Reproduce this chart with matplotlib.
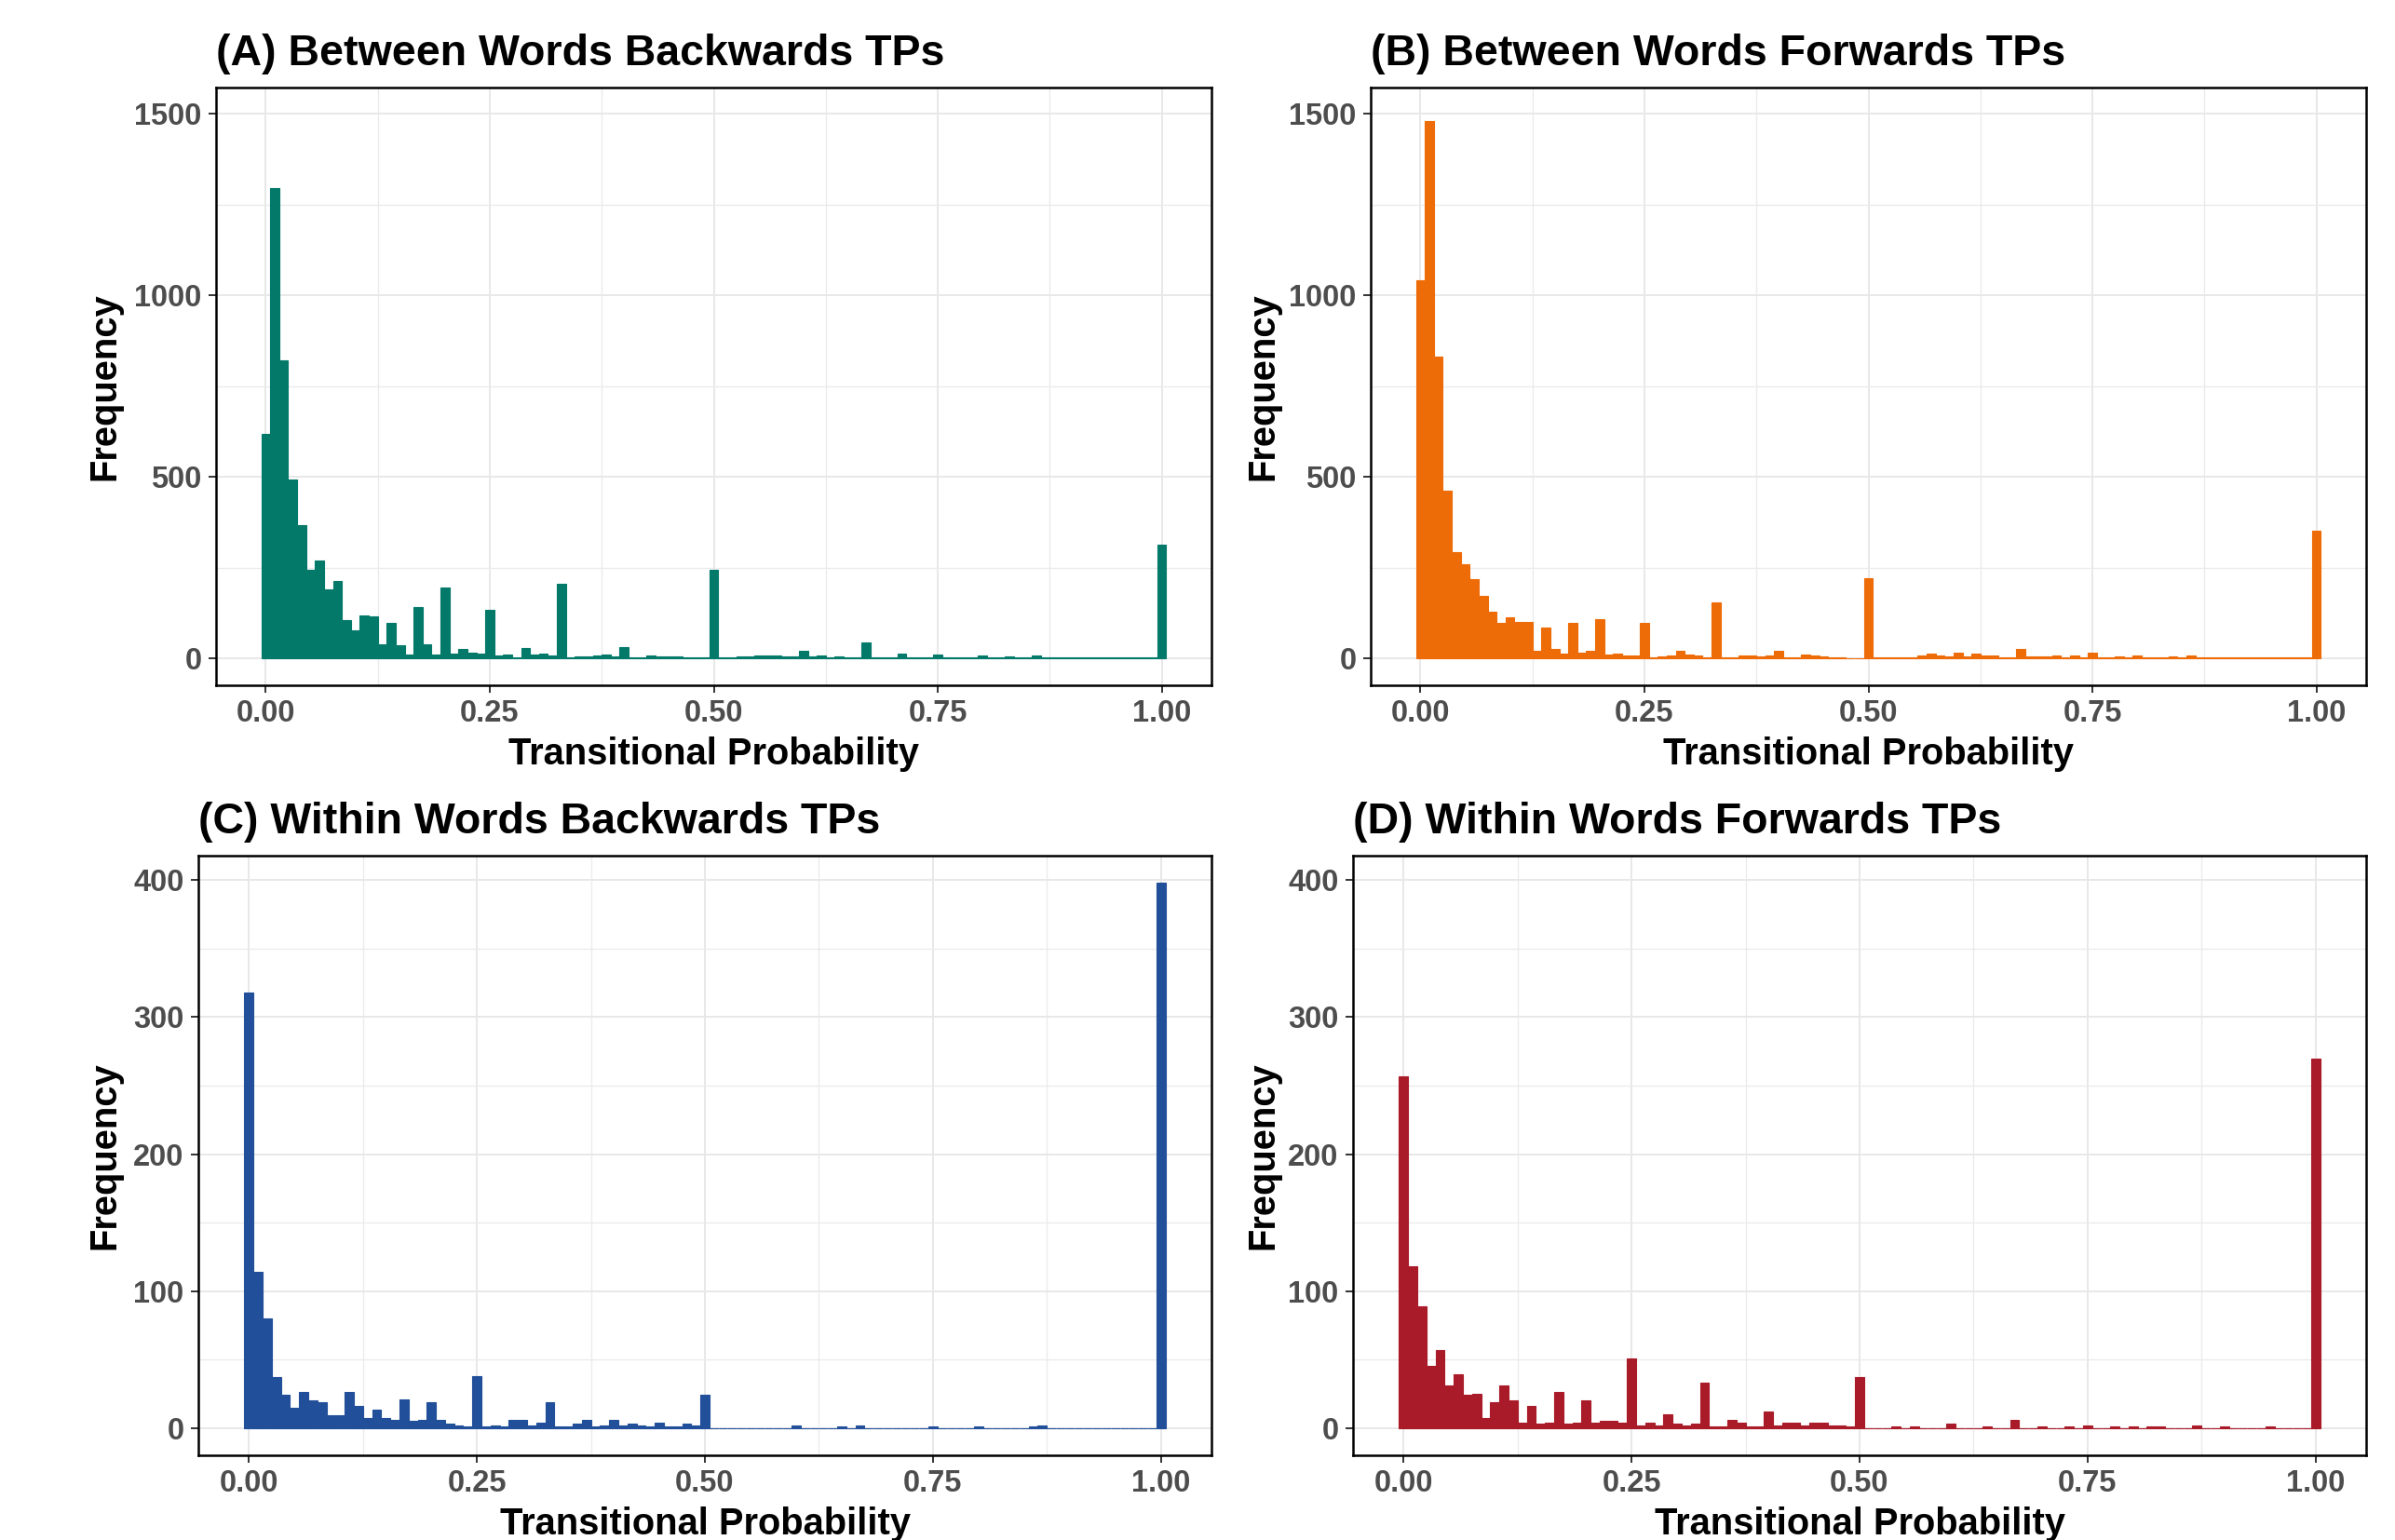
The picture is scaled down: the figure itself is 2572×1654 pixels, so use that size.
import numpy as np
import matplotlib.pyplot as plt
from matplotlib.ticker import FixedLocator, MultipleLocator

plt.rcParams['font.family'] = ['Liberation Sans', 'DejaVu Sans']
plt.rcParams['font.weight'] = 'bold'

# ---------- Data (counts per 0.01-wide bin, centred on 0.00 ... 1.00) ----------
bin_centers = np.round(np.arange(101) * 0.01, 2)

between_backward = [
    619, 1295, 821, 493, 368, 244, 269, 191, 212, 106,
    78, 118, 116, 39, 97, 37, 11, 141, 39, 11,
    194, 12, 27, 17, 12, 133, 7, 11, 4, 28,
    10, 13, 7, 206, 4, 5, 6, 8, 10, 5,
    31, 4, 4, 7, 5, 5, 5, 4, 3, 3,
    245, 4, 4, 5, 6, 7, 7, 9, 5, 5,
    21, 5, 8, 4, 6, 4, 4, 43, 4, 4,
    4, 12, 4, 4, 4, 10, 4, 3, 4, 4,
    8, 3, 3, 5, 4, 3, 7, 3, 2, 2,
    2, 2, 2, 2, 2, 2, 2, 2, 2, 2,
    314]

between_forward = [
    1040, 1480, 832, 462, 293, 259, 218, 171, 129, 98,
    114, 100, 100, 21, 86, 27, 12, 97, 15, 20,
    107, 10, 14, 9, 9, 97, 3, 5, 7, 21,
    11, 9, 3, 153, 3, 3, 7, 8, 6, 8,
    22, 4, 2, 11, 9, 5, 2, 2, 1, 1,
    222, 3, 3, 2, 3, 4, 7, 12, 7, 5,
    15, 6, 12, 7, 7, 4, 4, 26, 5, 5,
    5, 9, 3, 8, 4, 16, 3, 3, 6, 4,
    8, 3, 3, 3, 6, 3, 7, 4, 4, 4,
    3, 4, 4, 3, 2, 2, 2, 2, 2, 2,
    351]

within_backward = [
    318, 114, 80, 37, 24, 15, 26, 20, 19, 9,
    9, 26, 16, 7, 13, 7, 6, 21, 5, 6,
    19, 6, 3, 2, 1, 38, 1, 2, 1, 6,
    6, 2, 4, 19, 1, 1, 3, 6, 1, 2,
    6, 2, 3, 2, 1, 4, 1, 1, 3, 2,
    24, 0, 0, 0, 0, 0, 0, 0, 0, 0,
    2, 0, 0, 0, 0, 1, 0, 2, 0, 0,
    0, 0, 0, 0, 0, 1, 0, 0, 0, 0,
    1, 0, 0, 0, 0, 0, 1, 2, 0, 0,
    0, 0, 0, 0, 0, 0, 0, 0, 0, 0,
    398]

within_forward = [
    257, 118, 89, 45, 57, 31, 39, 24, 25, 7,
    19, 31, 20, 4, 16, 3, 4, 26, 3, 4,
    20, 4, 5, 5, 4, 51, 2, 4, 2, 10,
    3, 2, 3, 33, 1, 1, 6, 4, 1, 1,
    12, 2, 4, 4, 2, 4, 4, 2, 2, 1,
    37, 0, 0, 0, 1, 0, 1, 0, 0, 0,
    3, 0, 0, 0, 1, 0, 0, 6, 0, 0,
    1, 0, 0, 1, 0, 2, 0, 0, 1, 0,
    1, 0, 1, 1, 0, 0, 0, 2, 0, 0,
    1, 0, 0, 0, 0, 1, 0, 0, 0, 0,
    270]

titles = ['(A) Between Words Backwards TPs', '(B) Between Words Forwards TPs',
          '(C) Within Words Backwards TPs', '(D) Within Words Forwards TPs']
x_ticks = [0.0, 0.25, 0.5, 0.75, 1.0]
x_ticklabels = ['0.00', '0.25', '0.50', '0.75', '1.00']
y_ticks_top = [0, 500, 1000, 1500]
y_ticks_bottom = [0, 100, 200, 300, 400]

# ---------- Figure layout (pixel boxes: left, right, top, bottom) ----------
W, H = 2572, 1654
fig = plt.figure(figsize=(W / 100, H / 100), dpi=100)

panels = [
    (between_backward, '#03796A', (232, 1301, 94, 736), y_ticks_top, (-74, 1572), 250),
    (between_forward, '#ED6C08', (1472, 2541, 94, 736), y_ticks_top, (-74, 1572), 250),
    (within_backward, '#224F9A', (213, 1301, 919, 1563), y_ticks_bottom, (-20, 418), 50),
    (within_forward, '#AA1B29', (1453, 2541, 919, 1563), y_ticks_bottom, (-20, 418), 50),
]
ylabel_x = [131, 1375, 131, 1375]

for i, (counts, color, box, yticks, ylim, yminor) in enumerate(panels):
    l, r, t, b = box
    ax = fig.add_axes([l / W, (H - b) / H, (r - l) / W, (b - t) / H])

    ax.bar(bin_centers, counts, width=0.01, color=color, edgecolor=color,
           linewidth=0.8, zorder=3)

    ax.set_xlim(-0.0555, 1.0555)
    ax.set_ylim(*ylim)
    ax.xaxis.set_major_locator(FixedLocator(x_ticks))
    ax.set_xticklabels(x_ticklabels)
    ax.xaxis.set_minor_locator(MultipleLocator(0.125))
    ax.yaxis.set_major_locator(FixedLocator(yticks))
    ax.yaxis.set_minor_locator(MultipleLocator(yminor))

    ax.grid(which='major', color='#E8E8E8', linewidth=1.4, zorder=0)
    ax.grid(which='minor', color='#EBEBEB', linewidth=1.0, zorder=0)
    ax.set_axisbelow(True)

    for sp in ax.spines.values():
        sp.set_linewidth(1.8)
        sp.set_color('black')
    ax.tick_params(which='major', length=6, width=1.4, color='#333333',
                   labelsize=23.5, labelcolor='#4D4D4D', pad=5)
    ax.tick_params(which='minor', length=0)

    ax.set_xlabel('Transitional Probability', fontsize=28.7, fontweight='bold', labelpad=6)
    ax.set_ylabel('Frequency', fontsize=28.7, fontweight='bold')
    ax.yaxis.set_label_coords((ylabel_x[i] - l) / (r - l), 0.5)
    ax.set_title(titles[i], loc='left', fontsize=33.5, fontweight='bold', pad=17)

fig.savefig('out.png', dpi=100, facecolor='white')
